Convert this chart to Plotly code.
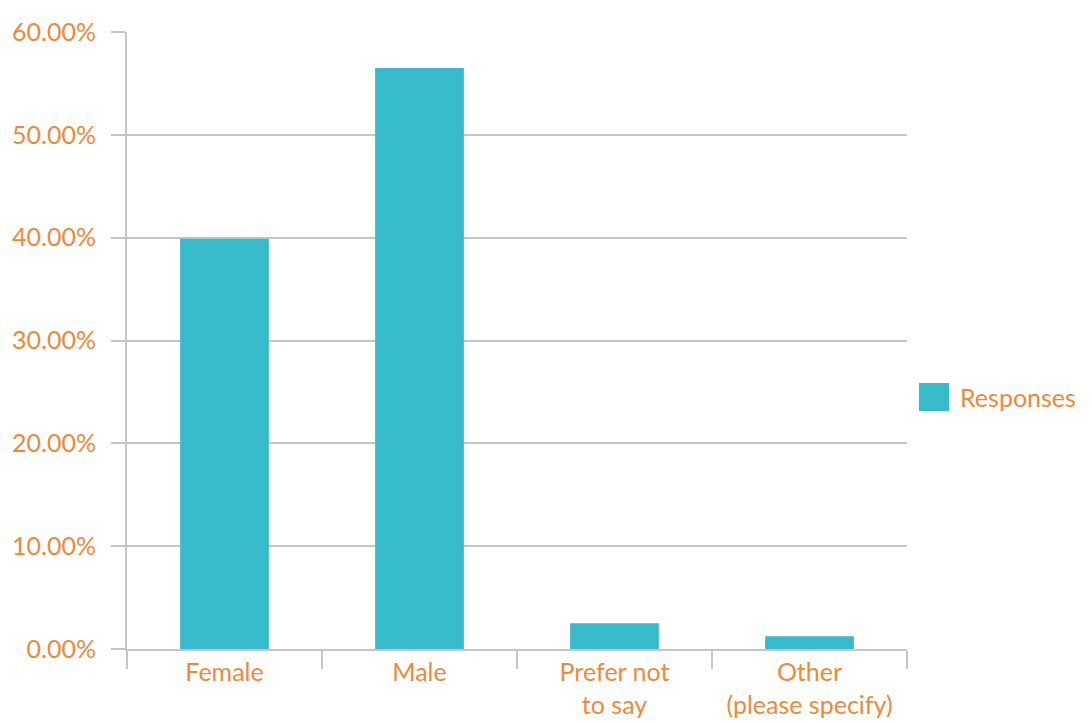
import plotly.graph_objects as go

categories = ["Female", "Male", "Prefer not<br>to say", "Other<br>(please specify)"]
values = [39.9, 56.5, 2.5, 1.25]
series_name = "Responses"
tick_vals = [0, 10, 20, 30, 40, 50, 60]

ORANGE = "#EC8A3C"
BAR = "#37BAC9"
GRID = "#C4C6C8"
FONT = "Lato, Open Sans, sans-serif"
FS = 25

# page body has an 8px default margin; figure sized to fit the window
W, H = 1084, 715
L, T = 119, 24
PW, PH = 780, 617

fig = go.Figure()
fig.add_trace(go.Bar(
    x=categories, y=values, name=series_name,
    marker=dict(color=BAR, line=dict(width=0)),
    width=0.455, showlegend=False,
))

fig.update_layout(
    width=W, height=H,
    margin=dict(l=L, r=W - L - PW, t=T, b=H - T - PH, autoexpand=False),
    paper_bgcolor="white", plot_bgcolor="white",
    font=dict(family=FONT, color=ORANGE, size=FS),
    xaxis=dict(
        showline=True, linecolor=GRID, linewidth=2,
        ticks="outside", ticklen=18, tickwidth=2, tickcolor=GRID,
        tickson="boundaries", showgrid=False, automargin=False,
        tickfont=dict(size=FS, color=ORANGE, family=FONT),
    ),
    yaxis=dict(
        range=[0, 60], tickvals=tick_vals,
        ticktext=[f"{v:.2f}%" for v in tick_vals],
        showline=True, linecolor=GRID, linewidth=2,
        showgrid=True, gridcolor=GRID, gridwidth=2,
        ticks="outside", ticklen=14, tickwidth=2, tickcolor=GRID,
        ticklabelstandoff=10, zeroline=False, automargin=False,
        tickfont=dict(size=FS, color=ORANGE, family=FONT),
    ),
)

# Legend drawn as shape + annotation (paper coordinates)
def px(x):
    return (x - 8 - L) / PW

def py(y):
    return (T + PH - (y - 8)) / PH

fig.add_shape(type="rect", xref="paper", yref="paper",
              x0=px(919), x1=px(949), y0=py(411), y1=py(383),
              fillcolor=BAR, line=dict(width=0))
fig.add_annotation(xref="paper", yref="paper",
                   x=px(958), y=py(397),
                   xanchor="left", yanchor="middle", showarrow=False,
                   text=series_name, font=dict(size=FS, color=ORANGE, family=FONT))

fig.write_html("out.html")
